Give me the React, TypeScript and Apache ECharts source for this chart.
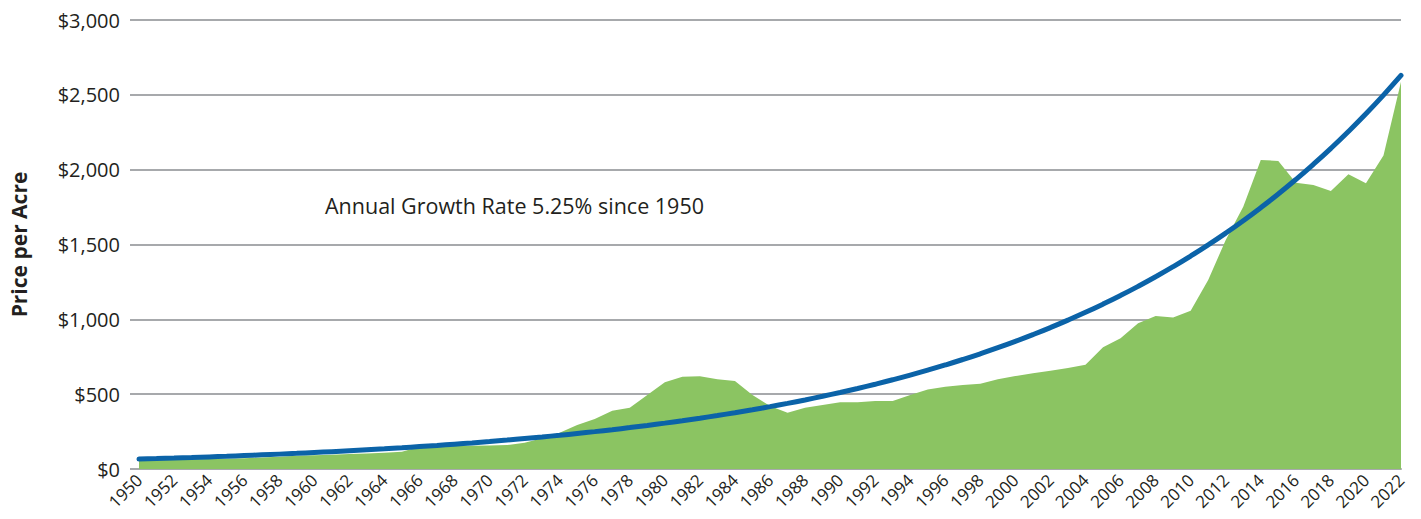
import React, { useEffect, useRef } from "react";
import * as echarts from "echarts";

const years: string[] = [];
for (let y = 1950; y <= 2022; y++) years.push(String(y));

const pricePerAcre = [
  55, 60, 63, 65, 66, 69, 72, 77, 82, 88,
  92, 95, 100, 104, 109, 115, 149, 151, 153, 155,
  157, 160, 176, 205, 243, 294, 334, 390, 410, 494,
  579, 617, 619, 599, 588, 494, 421, 376, 410, 428,
  446, 446, 454, 454, 494, 532, 550, 561, 570, 599,
  621, 640, 657, 675, 697, 813, 873, 973, 1022, 1013,
  1058, 1263, 1530, 1753, 2065, 2058, 1913, 1898, 1858, 1969,
  1909, 2094, 2588,
];

const growthTrend = [
  66, 69.5, 73.1, 76.9, 81.0, 85.2, 89.7, 94.4, 99.4, 104.6,
  110.1, 115.9, 122.0, 128.4, 135.1, 142.2, 149.7, 157.5, 165.8, 174.5,
  183.7, 193.3, 203.5, 214.2, 225.4, 237.3, 249.7, 262.8, 276.6, 291.2,
  306.5, 322.6, 339.5, 357.3, 376.1, 395.8, 416.6, 438.5, 461.5, 485.8,
  511.3, 538.1, 566.4, 596.1, 627.4, 660.4, 695.1, 731.6, 770.0, 810.4,
  853.0, 897.8, 944.9, 994.5, 1046.7, 1101.7, 1159.5, 1220.4, 1284.5, 1351.9,
  1422.9, 1497.6, 1576.2, 1659.0, 1746.1, 1837.7, 1934.2, 2035.8, 2142.7, 2255.2,
  2373.6, 2498.2, 2629.3,
];

const annotation = "Annual Growth Rate 5.25% since 1950";
const yTitle = "Price per Acre";

export default function App() {
  const ref = useRef<HTMLDivElement>(null);
  useEffect(() => {
    document.body.style.margin = "0";
    const chart = echarts.init(ref.current!, undefined, { renderer: "svg" });
    const font = "'Open Sans', 'Noto Sans', sans-serif";
    chart.setOption({
      animation: false,
      textStyle: { fontFamily: font },
      grid: { left: 137, right: 20, top: 20, bottom: 50, containLabel: false },
      xAxis: {
        type: "category",
        data: years,
        boundaryGap: false,
        axisLine: { show: true, lineStyle: { color: "#a7a9ac", width: 2 } },
        axisTick: { show: false },
        axisLabel: {
          interval: 1,
          rotate: 45,
          fontSize: 17,
          color: "#231f20",
          fontFamily: font,
          margin: 8,
        },
        splitLine: { show: false },
      },
      yAxis: {
        type: "value",
        min: 0,
        max: 3000,
        interval: 500,
        name: yTitle,
        nameLocation: "middle",
        nameGap: 110,
        nameTextStyle: { fontSize: 21, fontWeight: "bold", color: "#231f20", fontFamily: font },
        axisLine: { show: false },
        axisTick: { show: true, length: 9, lineStyle: { color: "#a7a9ac", width: 2 } },
        axisLabel: {
          fontSize: 20,
          color: "#231f20",
          fontFamily: font,
          margin: 19,
          formatter: (v: number) => "$" + v.toLocaleString("en-US"),
        },
        splitLine: { show: true, lineStyle: { color: "#a7a9ac", width: 2 } },
      },
      series: [
        {
          type: "line",
          data: pricePerAcre,
          symbol: "none",
          lineStyle: { width: 0 },
          areaStyle: { color: "#8bc462", opacity: 1 },
          z: 2,
        },
        {
          type: "line",
          data: growthTrend,
          symbol: "none",
          smooth: true,
          lineStyle: { width: 5, color: "#0b63a8", cap: "round" },
          z: 3,
        },
      ],
      graphic: [
        {
          type: "text",
          left: 325,
          top: 194,
          style: { text: annotation, fontSize: 21.5, fill: "#231f20", fontFamily: font },
        },
      ],
    });
    return () => chart.dispose();
  }, []);
  return <div ref={ref} style={{ width: 1421, height: 519 }} />;
}
